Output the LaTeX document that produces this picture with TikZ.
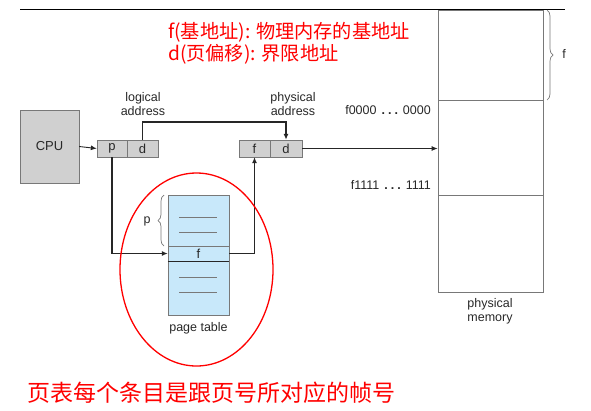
\documentclass[tikz,border=0pt]{standalone}
\usepackage{fontspec}
\setmainfont{Liberation Sans}
\newfontfamily\cjk{Noto Sans CJK SC}
\usetikzlibrary{arrows.meta,decorations.pathreplacing,shapes.geometric}
\definecolor{boxgray}{RGB}{208,208,208}
\definecolor{edgegray}{RGB}{120,120,120}
\definecolor{ptblue}{RGB}{200,232,250}
\definecolor{txtgray}{RGB}{40,40,40}
\newcommand{\mydots}{\hspace{5pt}\textbf{.\hspace{3pt}.\hspace{3pt}.}\hspace{5pt}}
\begin{document}
\begin{tikzpicture}[x=1pt,y=-1pt,
  cell/.style={draw=edgegray,fill=boxgray,inner sep=0pt,minimum height=17pt,text=txtgray,font=\fontsize{13}{15}\selectfont},
  memcell/.style={draw=edgegray,line width=0.8pt,inner sep=0pt,minimum width=105pt},
  lbl/.style={text=txtgray,font=\fontsize{12.5}{14}\selectfont,align=center,inner sep=0pt},
  conn/.style={draw=black!85,line width=1.4pt,-{Latex[length=6pt,width=5pt]}},
  thinconn/.style={draw=black!85,line width=0.9pt,-{Latex[length=6pt,width=5pt]}},
  redtxt/.style={text=red,font=\cjk\fontsize{19.2}{21}\selectfont,anchor=west,inner sep=0pt},
  tline/.style={draw=edgegray,line width=0.7pt}]
\useasboundingbox (0,0) rectangle (591,410);
% top rule
\draw[line width=0.8pt] (20,9) -- (565,9);
% red notes
\node[redtxt] (n1) at (168,32) {f(基地址): 物理内存的基地址};
\node[redtxt] (n2) at (168,54) {d(页偏移): 界限地址};
% CPU
\node[draw=edgegray,fill=boxgray,minimum width=59pt,minimum height=73pt,inner sep=0pt,text=txtgray,font=\fontsize{13}{15}\selectfont] (cpu) at (49.5,146.5) {CPU};
% logical address cells
\node[cell,minimum width=30pt] (p) at (112,148.5) {p};
\node[cell,minimum width=31pt] (d) at (142.5,148.5) {d};
\node[cell,minimum width=31pt] (f2) at (254.5,148.5) {f};
\node[cell,minimum width=32pt] (d2) at (286,148.5) {d};
\node[lbl] (la) at (143,104) {logical\\address};
\node[lbl] (pa) at (293,104) {physical\\address};
% memory
\node[memcell,minimum height=90pt] (m0) at (490.5,55) {};
\node[memcell,minimum height=95pt] (m1) at (490.5,147.5) {};
\node[memcell,minimum height=97pt] (m2) at (490.5,243.5) {};
\node[lbl,anchor=east] (a0) at (431,110) {f0000\mydots 0000};
\node[lbl,anchor=east] (a1) at (431,185) {f1111\mydots 1111};
\node[lbl] (pm) at (490,311) {physical\\memory};
\draw[edgegray,line width=0.7pt,decorate,decoration={brace,amplitude=6pt}] (547,10) -- (547,100);
\node[lbl] (fl) at (564,54) {f};
% page table
\node[draw=edgegray,fill=ptblue,minimum width=61pt,minimum height=120pt,inner sep=0pt] (pt) at (198.5,255) {};
\node[draw=edgegray,fill=ptblue,minimum width=61pt,minimum height=15pt,inner sep=0pt,text=txtgray,font=\fontsize{13}{15}\selectfont] (ptf) at (198.5,253.5) {f};
\draw[line width=1pt,black!85] (ptf.south west) -- (ptf.south east);
\draw[tline] (179,217) -- (217,217);
\draw[tline] (179,232) -- (217,232);
\draw[tline] (179,277) -- (217,277);
\draw[tline] (179,292) -- (217,292);
\draw[edgegray,line width=0.7pt,decorate,decoration={brace,amplitude=6pt}] (164,246) -- (164,195);
\node[lbl] (pl) at (147,221) {p};
\node[lbl] (ptl) at (198.5,328) {page table};
% connectors
\draw[thinconn] (cpu.east) -- (p.west);
\draw[conn] (d.north) -- ++(0,-18) -| (d2.north);
\draw[conn] (p.south) |- (ptf.west);
\draw[thinconn] (ptf.east) -| (f2.south);
\draw[draw=black!85,line width=0.8pt,-{Latex[length=6pt,width=5pt]}] (d2.east) -- (d2.east -| m1.west);
% red ellipse
\node[draw=red,line width=1.3pt,ellipse,minimum width=153pt,minimum height=193pt,inner sep=0pt] (ring) at (196.5,269.5) {};
% bottom note
\node[text=red,font=\cjk\fontsize{23}{25}\selectfont,anchor=west,inner sep=0pt] (n3) at (27,393) {页表每个条目是跟页号所对应的帧号};
\end{tikzpicture}
\end{document}
